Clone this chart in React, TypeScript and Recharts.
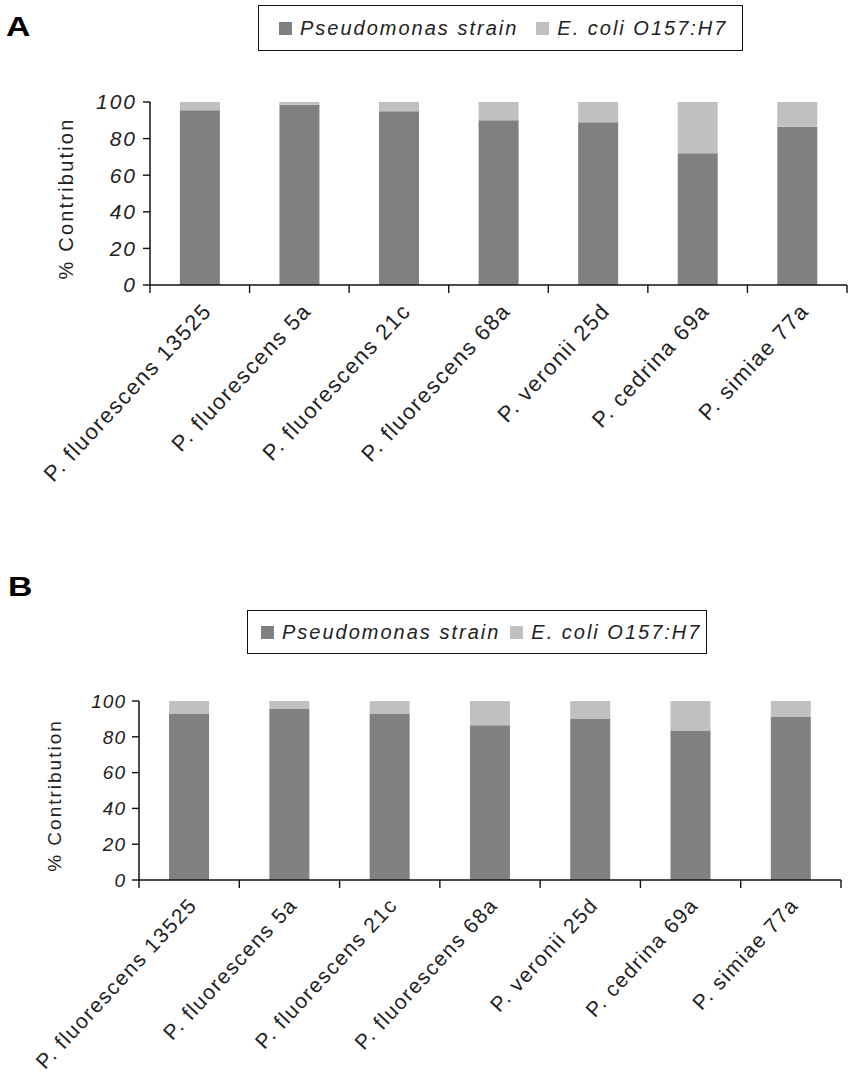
import { BarChart, Bar, XAxis, YAxis, Label } from "recharts";

// strains on the x axis (same in both panels)
const categories = [
  "P. fluorescens 13525",
  "P. fluorescens 5a",
  "P. fluorescens 21c",
  "P. fluorescens 68a",
  "P. veronii 25d",
  "P. cedrina 69a",
  "P. simiae 77a",
];

// panel A values (% contribution)
const pseudomonasA = [95.5, 98.5, 95, 90, 89, 72, 86.5];
const ecoliA = [4.5, 1.5, 5, 10, 11, 28, 13.5];

// panel B values (% contribution)
const pseudomonasB = [93, 95.5, 93, 86.5, 90, 83.5, 91];
const ecoliB = [7, 4.5, 7, 13.5, 10, 16.5, 9];

const yTicks = [0, 20, 40, 60, 80, 100];
const seriesNames = ["Pseudomonas strain", "E. coli O157:H7"];
const seriesColors = ["#808080", "#c0c0c0"];

const FONT = "'Liberation Sans', Arial, sans-serif";

const buildRows = (a: number[], b: number[]) =>
  categories.map((name, i) => ({ name, pseudo: a[i], ecoli: b[i] }));

const dataA = buildRows(pseudomonasA, ecoliA);
const dataB = buildRows(pseudomonasB, ecoliB);

// x tick: boundary tick marks + rotated label
const makeXTick = (band: number, dx: number, dy: number, size: number) => (props: any) => {
  const { x, y, payload, index } = props;
  const tx = x + dx;
  const ty = y + dy;
  return (
    <g>
      <line x1={x - band / 2} x2={x - band / 2} y1={y} y2={y + 8} stroke="#111" strokeWidth={1.4} />
      {index === categories.length - 1 && (
        <line x1={x + band / 2} x2={x + band / 2} y1={y} y2={y + 8} stroke="#111" strokeWidth={1.4} />
      )}
      <text
        x={tx}
        y={ty}
        transform={`rotate(-47 ${tx} ${ty})`}
        textAnchor="end"
        fontSize={size}
        letterSpacing={1.5}
        fill="#222"
        fontFamily={FONT}
      >
        {payload.value}
      </text>
    </g>
  );
};

const makeYLabel = (cx: number, size: number, spacing: number) => (props: any) => {
  const vb = props.viewBox;
  const cy = vb.y + vb.height / 2 + 5;
  return (
    <text
      x={cx}
      y={cy}
      transform={`rotate(-90 ${cx} ${cy})`}
      textAnchor="middle"
      dominantBaseline="central"
      fontSize={size}
      letterSpacing={spacing}
      fill="#222"
      fontFamily={FONT}
    >
      % Contribution
    </text>
  );
};

const LegendBox = ({ left, top, width, height, pad, gap }: any) => (
  <div
    style={{
      position: "absolute",
      left,
      top,
      width,
      height,
      boxSizing: "border-box",
      border: "1.5px solid #111",
      display: "flex",
      alignItems: "center",
      paddingLeft: pad,
      fontFamily: FONT,
      fontStyle: "italic",
      fontSize: 20,
      letterSpacing: 2,
      color: "#222",
      whiteSpace: "nowrap",
    }}
  >
    {seriesNames.map((n, i) => (
      <div key={n} style={{ display: "flex", alignItems: "center", marginRight: i === 0 ? gap : 0 }}>
        <span style={{ width: 13, height: 13, background: seriesColors[i], marginRight: 8 }} />
        <span>{n}</span>
      </div>
    ))}
  </div>
);

const Panel = ({ data, top, height, margin, yWidth, xHeight, band, xdx, xdy, xFont, yFont, ySpacing, labelX, labelSize, labelSpacing }: any) => (
  <div style={{ position: "absolute", left: 0, top }}>
    <BarChart width={854} height={height} data={data} margin={margin} barCategoryGap="30%">
      <XAxis
        dataKey="name"
        interval={0}
        height={xHeight}
        tickSize={0}
        tickMargin={0}
        tickLine={false}
        axisLine={{ stroke: "#111", strokeWidth: 1.5 }}
        tick={makeXTick(band, xdx, xdy, xFont)}
      />
      <YAxis
        width={yWidth}
        domain={[0, 100]}
        ticks={yTicks}
        interval={0}
        tickSize={7}
        tickMargin={6}
        axisLine={{ stroke: "#111", strokeWidth: 1.5 }}
        tickLine={{ stroke: "#111", strokeWidth: 1.4 }}
        tick={{ fontSize: yFont, fontStyle: "italic", fill: "#222", fontFamily: FONT, letterSpacing: ySpacing }}
      >
        <Label content={makeYLabel(labelX, labelSize, labelSpacing)} />
      </YAxis>
      <Bar dataKey="pseudo" name={seriesNames[0]} stackId="s" fill={seriesColors[0]} isAnimationActive={false} />
      <Bar dataKey="ecoli" name={seriesNames[1]} stackId="s" fill={seriesColors[1]} isAnimationActive={false} />
    </BarChart>
  </div>
);

export default function App() {
  return (
    <div
      style={{
        position: "absolute",
        left: 0,
        top: 0,
        width: 854,
        height: 1079,
        background: "#fff",
        overflow: "hidden",
      }}
    >
      <div style={{ position: "absolute", left: 6, top: 12, fontFamily: FONT, fontWeight: "bold", fontSize: 27, transform: "scaleX(1.25)", transformOrigin: "left" }}>
        A
      </div>
      <LegendBox left={258} top={5} width={485} height={46} pad={20} gap={18} />
      <Panel
        data={dataA}
        top={0}
        height={500}
        margin={{ top: 102, right: 7, bottom: 15, left: 0 }}
        yWidth={150}
        xHeight={200}
        band={(847 - 150) / 7}
        xdx={13}
        xdy={27}
        xFont={22}
        yFont={21}
        ySpacing={2}
        labelX={66}
        labelSize={20}
        labelSpacing={2.2}
      />

      <div style={{ position: "absolute", left: 8, top: 572, fontFamily: FONT, fontWeight: "bold", fontSize: 27, transform: "scaleX(1.25)", transformOrigin: "left" }}>
        B
      </div>
      <LegendBox left={247} top={610} width={460} height={44} pad={13} gap={10} />
      <Panel
        data={dataB}
        top={560}
        height={519}
        margin={{ top: 141, right: 13, bottom: 19, left: 0 }}
        yWidth={139}
        xHeight={180}
        band={(841 - 139) / 7}
        xdx={9}
        xdy={26}
        xFont={21}
        yFont={19}
        ySpacing={1}
        labelX={54}
        labelSize={19}
        labelSpacing={2}
      />
    </div>
  );
}
